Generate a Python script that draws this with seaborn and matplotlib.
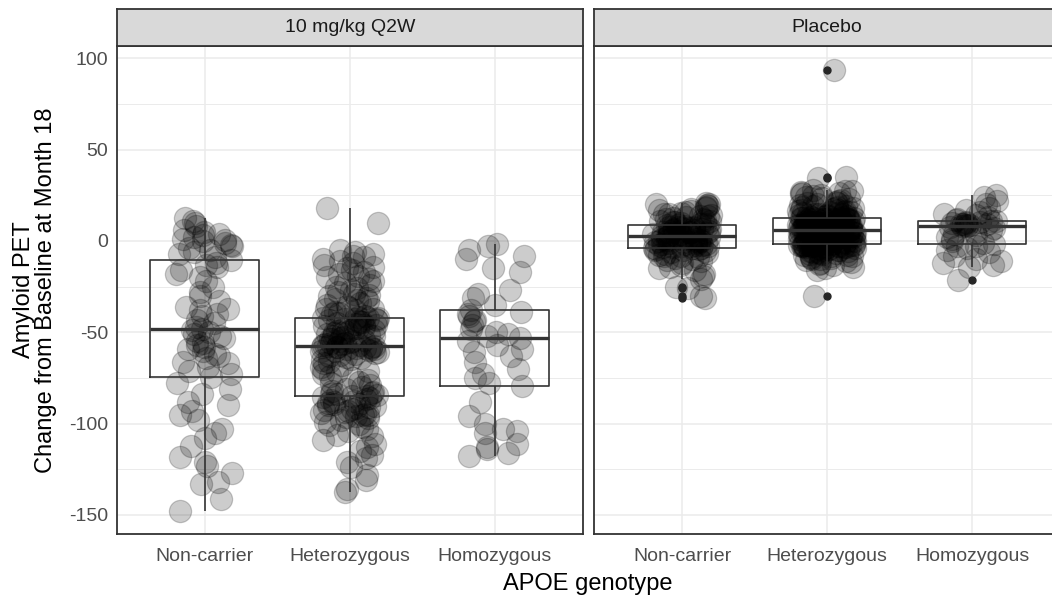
import numpy as np
import pandas as pd
import matplotlib
matplotlib.use("Agg")
import matplotlib.pyplot as plt
import seaborn as sns
from matplotlib.ticker import MultipleLocator

# ---- data: change in amyloid PET (centiloid) from baseline at month 18 ----
treatments = ["10 mg/kg Q2W", "Placebo"]
genotypes = ["Non-carrier", "Heterozygous", "Homozygous"]

dose_noncarrier = [
    -148, -141, -133, -132, -127, -123, -121, -118, -112, -108, -105, -103, -98, -95,
    -93, -90, -88, -84, -81, -78, -74.3,
    -73, -71, -69, -67, -66, -64, -63, -62, -60, -59, -58, -57, -56, -55, -53, -52,
    -51, -50, -49, -48.2,
    -47, -45, -43, -41, -40, -38, -37, -36, -33, -30, -28, -25, -22, -20, -18, -16,
    -14, -13, -12, -10.7,
    -9, -7, -6, -5, -4, -3, -2, -1, 0, 0.5, 1, 2, 3, 4, 5, 6, 8, 10, 11, 12.3,
]
dose_heterozygous = [
    -137.2, -136, -131, -128, -124, -121, -119, -117, -115, -113, -111, -109, -107,
    -106, -104, -103, -102, -101, -100, -99, -98, -97, -96.5, -96, -95.5, -95, -94.5,
    -94, -93.5, -93, -92.5, -92, -91.5, -91, -90.5, -90, -89.5, -89, -88.5, -88,
    -87.5, -87, -86.5, -86, -85.5, -85.1,
    -84.8, -84.5, -84, -83.5, -83, -82.5, -82, -81, -80, -79, -78, -77, -76, -75,
    -74, -73, -72, -71, -70, -69, -68, -67, -66, -65, -64.5, -64, -63.5, -63, -62.5,
    -62, -61.5, -61, -60.5, -60, -59.7, -59.4, -59.1, -58.8, -58.6, -58.4, -58.2,
    -58, -57.9, -57.8, -57.7,
    -57.4, -57.1, -56.8, -56.5, -56.2, -55.9, -55.6, -55.3, -55, -54.6, -54.2,
    -53.8, -53.4, -53, -52.6, -52.2, -51.8, -51.4, -51, -50.6, -50.2, -49.8, -49.4,
    -49, -48.6, -48.2, -47.8, -47.4, -47, -46.6, -46.2, -45.8, -45.4, -45, -44.6,
    -44.2, -43.8, -43.5, -43.2, -42.9, -42.7, -42.5, -42.4, -42.3, -42.2,
    -41.5, -41, -40, -39.5, -39, -38, -37.5, -37, -36, -35.5, -35, -34, -33, -32.5,
    -32, -31, -30, -29.5, -29, -28, -27, -26, -25, -24, -23, -22, -21, -20, -19,
    -18, -17, -16, -15, -14, -13, -12, -11, -10, -9, -8, -7, -6, -5, 10, 18.1,
]
dose_homozygous = [
    -117.5, -116, -114, -113, -111, -105, -104, -103, -100, -96, -88, -79.6,
    -78, -75, -73, -70, -66, -63, -61, -59, -57, -55, -53.3,
    -52, -51, -50, -48, -46, -44, -43, -41, -40, -39, -37.7,
    -35, -31, -29, -27, -17, -15, -10, -8, -5, -3, -1.4,
]
placebo_noncarrier = [
    -31, -30, -26, -25,
    -21, -19, -18, -16, -15, -14, -13, -12, -11, -10.5, -10, -9.5, -9, -8.5, -8,
    -7.5, -7, -6.5, -6, -5.6, -5.2, -4.8, -4.5, -4.2, -4, -3.8, -3.6,
    -3.4, -3.2, -3, -2.8, -2.6, -2.4, -2.2, -2, -1.8, -1.6, -1.4, -1.2, -1, -0.8,
    -0.6, -0.4, -0.2, 0, 0.2, 0.4, 0.6, 0.8, 1, 1.2, 1.4, 1.6, 1.9, 2.1, 2.3, 2.5,
    2.7, 2.9, 3.1, 3.3, 3.5, 3.7, 3.9, 4.1, 4.3, 4.5, 4.7, 4.9, 5.1, 5.3, 5.5, 5.7,
    5.9, 6.1, 6.3, 6.5, 6.7, 6.9, 7.1, 7.3, 7.5, 7.7, 7.9, 8.1, 8.4, 8.6,
    8.9, 9.2, 9.5, 9.8, 10.1, 10.4, 10.7, 11, 11.4, 11.8, 12.2, 12.6, 13, 13.4,
    13.8, 14.2, 14.6, 15, 15.5, 16, 16.5, 17, 17.5, 18, 18.5, 19, 19.5, 20, 20.4,
    20.8,
]
placebo_heterozygous = [
    -30.2,
    -16, -15, -14, -13, -12.5, -12, -11.5, -11, -10.5, -10, -9.7, -9.4, -9.1, -8.8,
    -8.5, -8.2, -7.9, -7.6, -7.3, -7, -6.7, -6.4, -6.1, -5.8, -5.5, -5.3, -5.1,
    -4.9, -4.7, -4.5, -4.3, -4.1, -3.9, -3.7, -3.5, -3.4, -3.3, -3.2, -3.1, -3,
    -2.9, -2.8, -2.75, -2.7, -2.6, -2.5, -2.45, -2.4, -2.3, -2.25, -2.2, -2.1,
    -2.05, -2.0, -1.9,
    -1.8, -1.6, -1.5, -1.3, -1.2, -1, -0.9, -0.7, -0.6, -0.4, -0.3, -0.1, 0, 0.2,
    0.3, 0.5, 0.6, 0.8, 0.9, 1.1, 1.2, 1.4, 1.5, 1.7, 1.8, 2, 2.1, 2.3, 2.4, 2.6,
    2.7, 2.9, 3, 3.2, 3.3, 3.5, 3.6, 3.8, 3.9, 4.1, 4.2, 4.4, 4.5, 4.7, 4.8, 5,
    5.1, 5.3, 5.4, 5.5, 5.6, 5.7, 5.75, 5.8, 5.9,
    6, 6.1, 6.3, 6.4, 6.5, 6.7, 6.8, 6.9, 7.1, 7.2, 7.3, 7.5, 7.6, 7.7, 7.9, 8,
    8.1, 8.3, 8.4, 8.5, 8.7, 8.8, 8.9, 9.1, 9.2, 9.3, 9.5, 9.6, 9.7, 9.9, 10, 10.1,
    10.3, 10.4, 10.5, 10.7, 10.8, 10.9, 11.1, 11.2, 11.3, 11.5, 11.6, 11.7, 11.8,
    11.9, 11.95, 12, 12.05, 12.1, 12.15, 12.2, 12.25, 12.28, 12.3,
    12.4, 12.5, 12.6, 12.7, 12.8, 12.9, 13, 13.2, 13.4, 13.6, 13.8, 14, 14.2, 14.4,
    14.6, 14.8, 15, 15.2, 15.4, 15.6, 15.8, 16, 16.3, 16.6, 16.9, 17.2, 17.5, 17.8,
    18.1, 18.4, 18.7, 19, 19.3, 19.6, 20, 20.5, 21, 21.5, 22, 22.5, 23, 23.5, 24,
    24.5, 25, 25.5, 26, 26.5, 27, 27.4, 27.6, 27.8,
    34.2, 34.8, 93.8,
]
placebo_homozygous = [
    -21.5, -14, -13, -12, -11, -10, -8, -6, -5, -4, -3, -2.5, -1.9,
    -1, 0, 1, 2, 3, 4, 5, 6, 7, 7.6, 8, 8.3,
    8.5, 8.7, 8.9, 9.1, 9.3, 9.5, 9.8, 10, 10.3, 10.5, 10.7, 10.8,
    11.5, 12, 13, 14, 15, 16, 17, 18, 20, 22, 24, 25,
]

y_ticks = [-150, -100, -50, 0, 50, 100]
x_title = "APOE genotype"
y_title = "Amyloid PET\nChange from Baseline at Month 18"

groups = {
    ("10 mg/kg Q2W", "Non-carrier"): dose_noncarrier,
    ("10 mg/kg Q2W", "Heterozygous"): dose_heterozygous,
    ("10 mg/kg Q2W", "Homozygous"): dose_homozygous,
    ("Placebo", "Non-carrier"): placebo_noncarrier,
    ("Placebo", "Heterozygous"): placebo_heterozygous,
    ("Placebo", "Homozygous"): placebo_homozygous,
}
df = pd.DataFrame(
    [(t, g, v) for (t, g), vals in groups.items() for v in vals],
    columns=["treatment", "genotype", "change"],
)

# ---- style ----
sns.set_style("white")
plt.rcParams["font.family"] = ["Liberation Sans", "DejaVu Sans"]
plt.rcParams["axes.unicode_minus"] = False

DARK = "#333333"
GRID = "#EBEBEB"
TICK_TXT = "#4D4D4D"

W, H = 1052, 599
fig = plt.figure(figsize=(W / 100, H / 100), dpi=100)


def fx(px):
    return px / W


def fy(py):
    return 1 - py / H


strip_top, panel_top, panel_bot = 9, 46, 534
panel_x = [(116.7, 582.8), (594.0, 1060.1)]

np.random.seed(7)
for i, (trt, (x0, x1)) in enumerate(zip(treatments, panel_x)):
    ax = fig.add_axes([fx(x0), fy(panel_bot), (x1 - x0) / W,
                       (panel_bot - panel_top) / H])
    sub = df[df["treatment"] == trt]

    # jittered observations
    sns.stripplot(
        data=sub, x="genotype", y="change", order=genotypes, ax=ax,
        jitter=0.2, size=16, color="black", alpha=0.2,
        linewidth=0.9, edgecolor="black", zorder=1.5,
    )
    # unfilled boxes drawn over the points
    sns.boxplot(
        data=sub, x="genotype", y="change", order=genotypes, ax=ax,
        width=0.75, fill=False, color=DARK, saturation=1,
        linewidth=1.2, fliersize=5, showcaps=False,
        flierprops=dict(marker="o", markerfacecolor="#262626",
                        markeredgecolor="#262626"),
        medianprops=dict(linewidth=2.4, color=DARK),
    )

    ax.set_xlim(-0.607, 2.607)
    ax.set_ylim(-160.4, 106.7)
    ax.set_yticks(y_ticks)
    ax.yaxis.set_minor_locator(MultipleLocator(25))
    ax.set_axisbelow(True)
    ax.yaxis.grid(True, which="major", color=GRID, linewidth=1.1)
    ax.yaxis.grid(True, which="minor", color=GRID, linewidth=0.7)
    ax.xaxis.grid(True, which="major", color=GRID, linewidth=1.1)
    ax.set_xlabel("")
    ax.set_ylabel("")
    for sp in ax.spines.values():
        sp.set_color(DARK)
        sp.set_linewidth(1.3)
        sp.set_visible(True)

    ax.tick_params(axis="both", which="major", length=3.8, width=1.0,
                   color=DARK, labelsize=14, labelcolor=TICK_TXT)
    ax.tick_params(axis="x", which="major", pad=6.5)
    ax.tick_params(axis="y", which="major", pad=2.5)
    ax.tick_params(axis="y", which="minor", length=0)
    if i > 0:
        ax.tick_params(axis="y", which="both", left=False, labelleft=False)

    # facet strip
    sax = fig.add_axes([fx(x0), fy(panel_top), (x1 - x0) / W,
                        (panel_top - strip_top) / H])
    sax.set_facecolor("#D9D9D9")
    sax.set_xticks([])
    sax.set_yticks([])
    for sp in sax.spines.values():
        sp.set_color(DARK)
        sp.set_linewidth(1.3)
        sp.set_visible(True)
    sax.text(0.5, 0.5, trt, transform=sax.transAxes, ha="center",
             va="center", fontsize=14, color="#1A1A1A")

fig.text(fx(588), fy(590), x_title, ha="center", va="baseline",
         fontsize=17, color="black")
fig.text(fx(35), fy(290), y_title, rotation=90, ha="center", va="center",
         multialignment="center", fontsize=17, color="black", linespacing=0.95)

fig.savefig("out.png", dpi=100)
